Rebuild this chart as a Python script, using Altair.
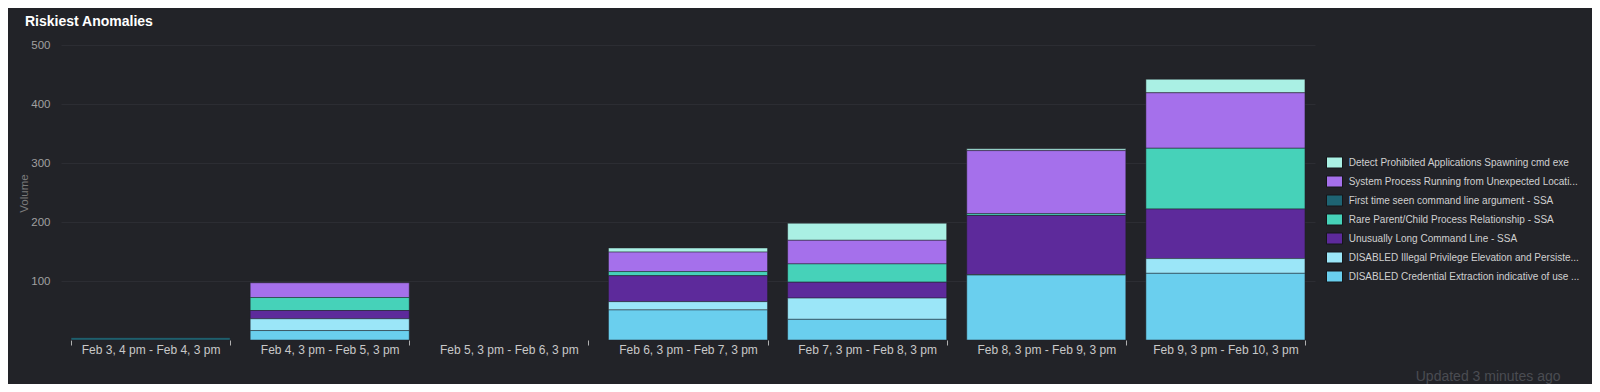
import altair as alt
import pandas as pd

buckets = [
    "Feb 3, 4 pm - Feb 4, 3 pm",
    "Feb 4, 3 pm - Feb 5, 3 pm",
    "Feb 5, 3 pm - Feb 6, 3 pm",
    "Feb 6, 3 pm - Feb 7, 3 pm",
    "Feb 7, 3 pm - Feb 8, 3 pm",
    "Feb 8, 3 pm - Feb 9, 3 pm",
    "Feb 9, 3 pm - Feb 10, 3 pm",
]

series_names = [
    "Detect Prohibited Applications Spawning cmd exe",
    "System Process Running from Unexpected Locati...",
    "First time seen command line argument - SSA",
    "Rare Parent/Child Process Relationship - SSA",
    "Unusually Long Command Line - SSA",
    "DISABLED Illegal Privilege Elevation and Persiste...",
    "DISABLED Credential Extraction indicative of use ...",
]
series_colors = ["#aaf0e4", "#a570eb", "#1e6473", "#46d2b9", "#5d2a9b", "#9be6f8", "#6acfee"]

detect = [0, 0, 0, 7, 29, 3, 23]
system = [0, 25, 0, 33, 40, 107, 94]
first_time = [4, 0, 0, 0, 0, 0, 0]
rare = [0, 22, 0, 7, 31, 3, 103]
unusual = [0, 14, 0, 44, 27, 100, 84]
illegal = [0, 20, 0, 14, 36, 1, 25]
credential = [0, 16, 0, 51, 35, 110, 113]

y_ticks = [100, 200, 300, 400, 500]

series_values = [detect, system, first_time, rare, unusual, illegal, credential]
rows = []
for i, (name, vals) in enumerate(zip(series_names, series_values)):
    for b, v in zip(buckets, vals):
        if v > 0:
            rows.append({"bucket": b, "series": name, "value": v, "rank": len(series_names) - i})
df = pd.DataFrame(rows)

BG = "#222328"
FONT = "Liberation Sans"

chart = alt.Chart(df).mark_bar(stroke=BG, strokeWidth=0.5).encode(
    x=alt.X(
        "bucket:N",
        sort=buckets,
        scale=alt.Scale(domain=buckets, paddingInner=0.112, paddingOuter=0.056),
        axis=alt.Axis(
            title="Updated 3 minutes ago",
            titleColor="#4a4c52",
            titleFont=FONT,
            titleFontSize=14,
            titleFontWeight="normal",
            titleX=1499,
            titleY=40,
            titleAlign="right",
            titleBaseline="alphabetic",
            labelAngle=0,
            labelColor="#c8c8c8",
            labelFont=FONT,
            labelFontSize=12,
            labelPadding=-1,
            tickBand="extent",
            tickColor="#b0b0b0",
            tickSize=5,
            tickWidth=1,
            domain=False,
            grid=False,
        ),
    ),
    y=alt.Y(
        "value:Q",
        stack="zero",
        scale=alt.Scale(domain=[0, 500], nice=False),
        axis=alt.Axis(
            values=y_ticks,
            title="Volume",
            titleColor="#7a7a7a",
            titleFont=FONT,
            titleFontSize=11.5,
            titleFontWeight="normal",
            titleX=-34,
            titleY=148,
            titleBaseline="alphabetic",
            titleAlign="center",
            labelColor="#a0a0a0",
            labelFont=FONT,
            labelFontSize=11.5,
            labelPadding=11,
            ticks=False,
            tickSize=0,
            domain=False,
            gridColor="#2c2d33",
            gridWidth=1,
        ),
    ),
    color=alt.Color(
        "series:N",
        scale=alt.Scale(domain=series_names, range=series_colors),
        legend=alt.Legend(
            title=None,
            orient="none",
            legendX=1267.5,
            legendY=111.5,
            symbolType="M-1.4545,-1H1.4545V1H-1.4545Z",
            symbolSize=121,
            symbolStrokeColor="#15161a",
            symbolStrokeWidth=1,
            symbolOpacity=1,
            labelColor="#d0d0d0",
            labelFont=FONT,
            labelFontSize=10,
            labelOffset=8.2,
            labelLimit=400,
            rowPadding=3,
            padding=0,
        ),
    ),
    order=alt.Order("rank:Q", sort="ascending"),
).properties(
    width=1254,
    height=295,
    title=alt.TitleParams(
        "Riskiest Anomalies",
        anchor="start",
        frame="group",
        dx=-36,
        color="#ffffff",
        font=FONT,
        fontSize=14,
        fontWeight="bold",
        offset=10,
    ),
    autosize=alt.AutoSizeParams(type="none"),
    padding={"left": 53, "top": 37, "right": 277, "bottom": 44},
    background=BG,
).configure_view(strokeWidth=0)

chart.save("out.html", embed_options={"renderer": "svg", "actions": False})
